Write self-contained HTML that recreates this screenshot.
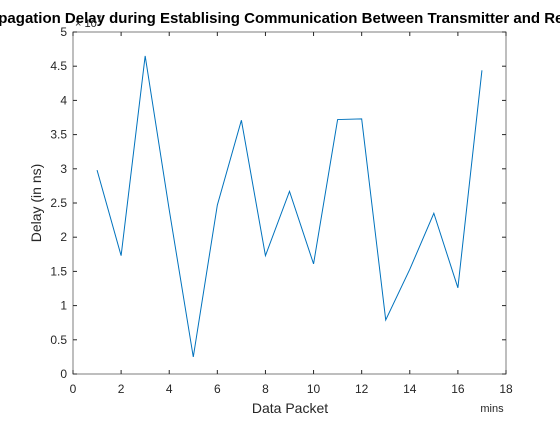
<!DOCTYPE html>
<html><head><meta charset="utf-8"><style>
body{margin:0;background:#fff;width:560px;height:420px;overflow:hidden}
svg{font-family:"Liberation Sans",sans-serif}
</style></head><body>
<svg width="560" height="420">
<rect x="73" y="32" width="433" height="342" fill="#fff" stroke="#262626" stroke-opacity="0.6"/>
<g id="ticks"></g>
<polyline id="line" fill="none" stroke="#0072bd" stroke-width="1"/>
<text x="290" y="23" text-anchor="middle" font-weight="bold" font-size="15" fill="#000">Propagation Delay during Establising Communication Between Transmitter and Receiver</text>
<text x="75" y="27" font-size="11" fill="#262626">× 10<tspan dy="-5" font-size="9">7</tspan></text>
<text x="290" y="413" text-anchor="middle" font-size="14" fill="#262626">Data Packet</text>
<text x="492" y="412" text-anchor="middle" font-size="11" fill="#262626">mins</text>
<text transform="translate(41,203) rotate(-90)" text-anchor="middle" font-size="14" fill="#262626">Delay (in ns)</text>
</svg>
<script>
const xs=[1,2,3,4,5,6,7,8,9,10,11,12,13,14,15,16,17];
const delays=[2.98,1.73,4.65,2.4,0.25,2.47,3.71,1.73,2.67,1.61,3.72,3.73,0.79,1.53,2.35,1.26,4.44];
const xTicks=[0,2,4,6,8,10,12,14,16,18];
const yTicks=[0,0.5,1,1.5,2,2.5,3,3.5,4,4.5,5];
const X=v=>73+v/18*433, Y=v=>374-v/5*342;
const ns="http://www.w3.org/2000/svg";
const line=document.getElementById('line');
line.setAttribute('points',xs.map((x,i)=>X(x)+','+Y(delays[i])).join(' '));
const g=document.getElementById('ticks');
function mk(t,a){const e=document.createElementNS(ns,t);for(const k in a)e.setAttribute(k,a[k]);g.appendChild(e);return e;}
xTicks.forEach(v=>{
 const l=mk('line',{x1:X(v),x2:X(v),y1:374,y2:370,stroke:'#262626'});
 
 
 const l2=mk('line',{x1:X(v),x2:X(v),y1:32,y2:36,stroke:'#262626'});
 
 
 const t=mk('text',{x:X(v),y:393,'text-anchor':'middle','font-size':12,fill:'#262626'});t.textContent=v;
 
 
});
yTicks.forEach(v=>{
 const l=mk('line',{x1:73,x2:77,y1:Y(v),y2:Y(v),stroke:'#262626'});
 
 
 const l2=mk('line',{x1:506,x2:502,y1:Y(v),y2:Y(v),stroke:'#262626'});
 
 
 const t=mk('text',{x:67,y:Y(v)+4,'text-anchor':'end','font-size':12,fill:'#262626'});t.textContent=v;
 
 
});
</script>
</body></html>
